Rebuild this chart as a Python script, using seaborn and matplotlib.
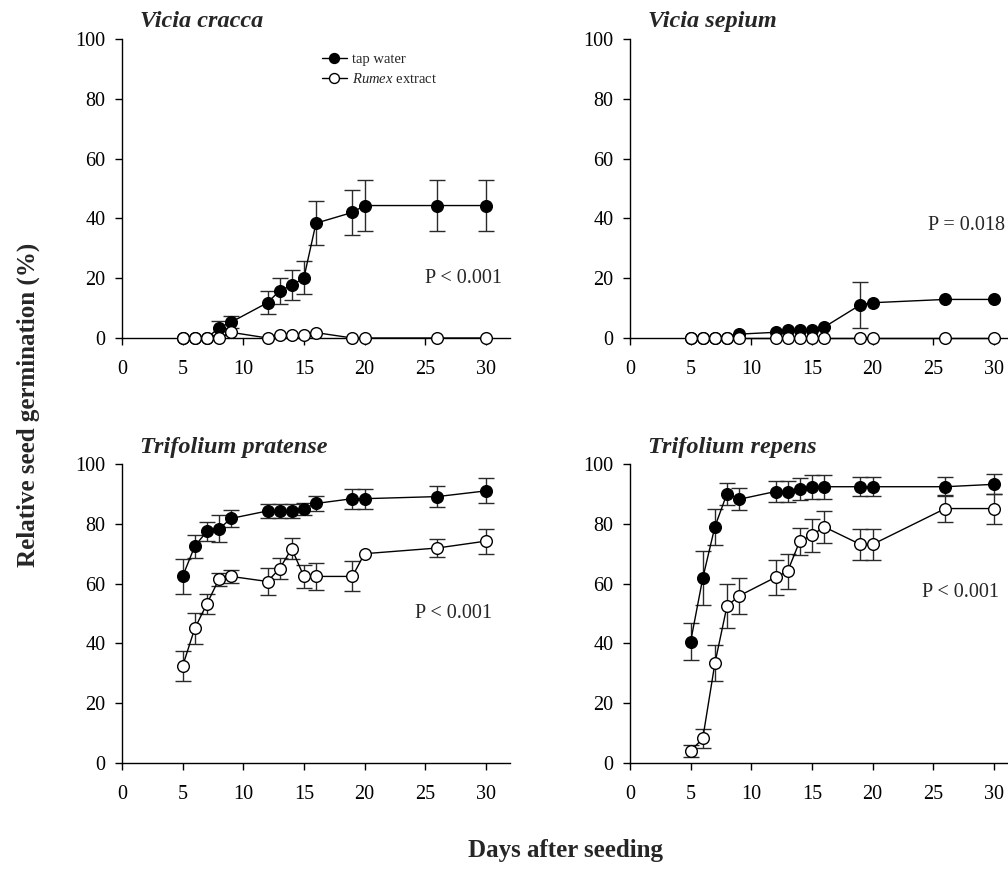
import numpy as np
import pandas as pd
import matplotlib
matplotlib.use("Agg")
import matplotlib.pyplot as plt
import seaborn as sns

sns.set_style("ticks")
plt.rcParams['font.family'] = ['Liberation Serif', 'DejaVu Serif']
plt.rcParams['mathtext.fontset'] = 'custom'
plt.rcParams['mathtext.rm'] = 'Liberation Serif'
plt.rcParams['mathtext.it'] = 'Liberation Serif:italic'

# ---------------- data ----------------
days = [5, 6, 7, 8, 9, 12, 13, 14, 15, 16, 19, 20, 26, 30]

vc_tap = [0, 0, 0, 3.4, 5.3, 11.8, 15.8, 17.6, 20.1, 38.4, 42.0, 44.3, 44.3, 44.3]
vc_tap_se = [0, 0, 0, 2.4, 2.0, 3.8, 4.3, 5.0, 5.5, 7.3, 7.6, 8.4, 8.4, 8.4]
vc_rum = [0, 0, 0, 0, 1.9, 0, 1.0, 1.0, 1.0, 1.8, 0, 0, 0, 0]
vc_rum_se = [0, 0, 0, 0, 0, 0, 0, 0, 0, 0, 0, 0, 0, 0]

vs_tap = [0, 0, 0, 0, 1.3, 1.9, 2.8, 2.8, 2.8, 3.6, 11.1, 11.8, 12.9, 12.9]
vs_tap_se = [0, 0, 0, 0, 0, 0, 0, 0, 0, 0, 7.6, 0, 0, 0]
vs_rum = [0, 0, 0, 0, 0, 0, 0, 0, 0, 0, 0, 0, 0, 0]
vs_rum_se = [0, 0, 0, 0, 0, 0, 0, 0, 0, 0, 0, 0, 0, 0]

tp_tap = [62.4, 72.5, 77.5, 78.3, 81.8, 84.3, 84.3, 84.3, 85.1, 86.8, 88.4, 88.4, 89.1, 91.0]
tp_tap_se = [5.9, 3.9, 3.1, 4.5, 2.8, 2.2, 2.2, 2.2, 2.0, 2.4, 3.4, 3.4, 3.6, 4.2]
tp_rum = [32.4, 45.0, 53.2, 61.5, 62.4, 60.7, 65.0, 71.7, 62.4, 62.4, 62.4, 70.0, 71.9, 74.2]
tp_rum_se = [5.1, 5.3, 3.4, 2.2, 2.2, 4.5, 3.6, 3.6, 3.9, 4.5, 5.0, 0.0, 3.1, 4.2]

tr_tap = [40.6, 61.8, 79.0, 90.1, 88.2, 90.8, 90.8, 91.6, 92.4, 92.4, 92.4, 92.4, 92.4, 93.2]
tr_tap_se = [6.3, 9.0, 6.1, 3.7, 3.7, 3.6, 3.6, 3.7, 4.0, 4.0, 3.1, 3.1, 3.1, 3.4]
tr_rum = [4.0, 8.2, 33.3, 52.5, 55.9, 62.1, 64.1, 74.2, 76.1, 79.0, 73.1, 73.1, 85.1, 85.1]
tr_rum_se = [2.0, 3.2, 6.0, 7.4, 5.9, 5.9, 5.8, 4.5, 5.4, 5.3, 5.3, 5.3, 4.5, 5.0]

species = ["Vicia cracca", "Vicia sepium", "Trifolium pratense", "Trifolium repens"]
p_texts = ["P < 0.001", "P = 0.018", "P < 0.001", "P < 0.001"]
p_pos = [(31.3, 20), (30.9, 37.5), (30.5, 50), (30.4, 57)]
x_ticks = [0, 5, 10, 15, 20, 25, 30]
y_ticks = [0, 20, 40, 60, 80, 100]
series_labels = ["tap water", r"$\it{Rumex}$ extract"]

panels = [
    (vc_tap, vc_tap_se, vc_rum, vc_rum_se),
    (vs_tap, vs_tap_se, vs_rum, vs_rum_se),
    (tp_tap, tp_tap_se, tp_rum, tp_rum_se),
    (tr_tap, tr_tap_se, tr_rum, tr_rum_se),
]

# ---------------- figure ----------------
W, H = 1008, 889
fig = plt.figure(figsize=(W / 100, H / 100), dpi=100)

ax_w = 388 / W
ax_h = 299 / H
lefts = [122 / W, 630 / W]
bottoms = [1 - 338 / H, 1 - 763 / H]
positions = [(lefts[0], bottoms[0]), (lefts[1], bottoms[0]),
             (lefts[0], bottoms[1]), (lefts[1], bottoms[1])]

ms = 8.4
for i, (name, (tap, tap_se, rum, rum_se)) in enumerate(zip(species, panels)):
    ax = fig.add_axes([positions[i][0], positions[i][1], ax_w, ax_h])
    df_tap = pd.DataFrame({"day": days, "value": tap, "se": tap_se})
    df_rum = pd.DataFrame({"day": days, "value": rum, "se": rum_se})

    # error bars
    for df in (df_tap, df_rum):
        d = df[df["se"] > 0]
        if len(d):
            ax.errorbar(d["day"], d["value"], yerr=d["se"], fmt="none",
                        ecolor="#2a2a2a", elinewidth=1.0, capsize=5.5,
                        capthick=1.0, zorder=2, clip_on=False)

    sns.lineplot(data=df_tap, x="day", y="value", ax=ax, color="black",
                 linewidth=1.0, marker="o", markersize=ms,
                 markerfacecolor="black", markeredgecolor="black",
                 markeredgewidth=1.0, clip_on=False, zorder=3,
                 label=series_labels[0], legend=False)
    sns.lineplot(data=df_rum, x="day", y="value", ax=ax, color="black",
                 linewidth=1.0, marker="o", markersize=ms,
                 markerfacecolor="white", markeredgecolor="black",
                 markeredgewidth=1.0, clip_on=False, zorder=4,
                 label=series_labels[1], legend=False)

    ax.set_xlim(0, 32)
    ax.set_ylim(0, 100)
    ax.set_xticks(x_ticks)
    ax.set_yticks(y_ticks)
    ax.set_xlabel("")
    ax.set_ylabel("")
    sns.despine(ax=ax)
    for s in ("left", "bottom"):
        ax.spines[s].set_linewidth(1.0)
        ax.spines[s].set_color("black")
    ax.tick_params(axis="both", direction="out", length=5, width=1.0,
                   labelsize=14.5, colors="black")
    ax.tick_params(axis="x", pad=11)
    ax.tick_params(axis="y", pad=7)

    ax.text(18 / 388, 1 + 17 / 299, name, transform=ax.transAxes,
            fontsize=17.5, fontweight="bold", fontstyle="italic",
            ha="left", va="center")
    ax.text(p_pos[i][0], p_pos[i][1], p_texts[i], fontsize=14.5,
            ha="right", va="center")

    if i == 0:
        handles = ax.get_lines()[-2:]
        ax.legend(handles=handles, labels=series_labels, loc="upper left",
                  bbox_to_anchor=(0.515, 0.955), frameon=False,
                  fontsize=10.5, handlelength=1.7, handletextpad=0.4,
                  labelspacing=0.45, borderpad=0, borderaxespad=0,
                  markerscale=0.85)

fig.text(28 / W, 1 - 405 / H, "Relative seed germination (%)", rotation=90,
         fontsize=18, fontweight="bold", ha="center", va="center")
fig.text(566 / W, 1 - 851 / H, "Days after seeding", fontsize=18,
         fontweight="bold", ha="center", va="center")

fig.savefig("out.png", dpi=100)
